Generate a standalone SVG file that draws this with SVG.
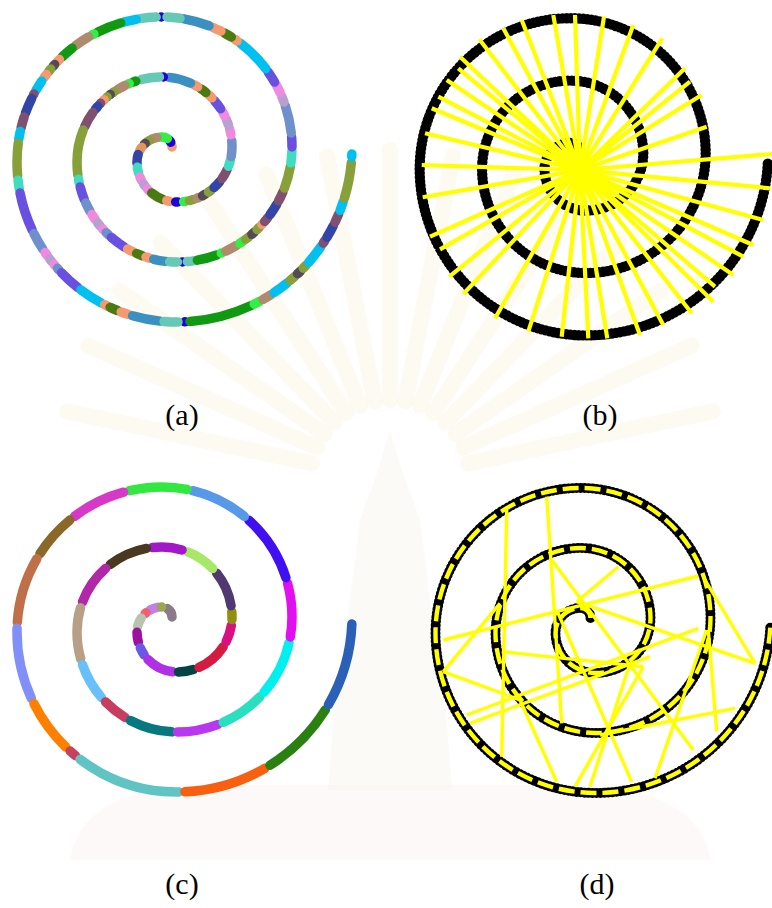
<svg xmlns="http://www.w3.org/2000/svg" width="772" height="908" viewBox="0 0 772 908">
<style>
.seg{fill:none;stroke-width:9.5;stroke-linecap:round}
.blk{fill:none;stroke:#000;stroke-width:10;stroke-linecap:round;stroke-dasharray:0 4}
.yl{stroke:#ffff00;stroke-width:4.2;stroke-linecap:butt;fill:none}
.yd{fill:none;stroke:#ffff00;stroke-width:4.4;stroke-dasharray:16 6}
.lbl{font-family:"Liberation Serif","Times New Roman",serif;font-size:30px;fill:#000;text-anchor:middle}
.ray{stroke:#f7efc8;stroke-width:16;stroke-linecap:round;opacity:0.25}
</style>
<defs>
<path id="sp" d="M172,147 A10,10 0 0 0 162,137 A25,25 0 0 0 137,162 A40,40 0 0 0 177,202 A55,55 0 0 0 232,147 A70,70 0 0 0 162,77 A85,85 0 0 0 77,162 A100,100 0 0 0 177,262 A115,115 0 0 0 292,147 A130,130 0 0 0 162,17 A145,145 0 0 0 17,162 A160,160 0 0 0 177,322 A175,175 0 0 0 351.86,154"/>
</defs>
<rect width="772" height="908" fill="#ffffff"/>
<g id="watermark">
<g transform="translate(390,480)">
<line class="ray" x1="0" y1="-80" x2="0" y2="-330" transform="rotate(-78)"/>
<line class="ray" x1="0" y1="-80" x2="0" y2="-330" transform="rotate(-66)"/>
<line class="ray" x1="0" y1="-80" x2="0" y2="-330" transform="rotate(-55)"/>
<line class="ray" x1="0" y1="-80" x2="0" y2="-330" transform="rotate(-44)"/>
<line class="ray" x1="0" y1="-80" x2="0" y2="-330" transform="rotate(-33)"/>
<line class="ray" x1="0" y1="-80" x2="0" y2="-330" transform="rotate(-22)"/>
<line class="ray" x1="0" y1="-80" x2="0" y2="-330" transform="rotate(-11)"/>
<line class="ray" x1="0" y1="-80" x2="0" y2="-330"/>
<line class="ray" x1="0" y1="-80" x2="0" y2="-330" transform="rotate(11)"/>
<line class="ray" x1="0" y1="-80" x2="0" y2="-330" transform="rotate(22)"/>
<line class="ray" x1="0" y1="-80" x2="0" y2="-330" transform="rotate(33)"/>
<line class="ray" x1="0" y1="-80" x2="0" y2="-330" transform="rotate(44)"/>
<line class="ray" x1="0" y1="-80" x2="0" y2="-330" transform="rotate(55)"/>
<line class="ray" x1="0" y1="-80" x2="0" y2="-330" transform="rotate(66)"/>
<line class="ray" x1="0" y1="-80" x2="0" y2="-330" transform="rotate(78)"/>
</g>
<path d="M390,430 L402,470 L420,520 L430,600 L445,700 L452,790 L328,790 L335,700 L350,600 L360,520 L378,470 Z" fill="#f3efe0" opacity="0.3"/>
<path d="M70,860 Q80,790 200,785 L580,785 Q700,790 710,860 Z" fill="#fbecec" opacity="0.3"/>
</g>

<g id="panel-a" class="seg">
<use href="#sp" stroke="#f59a6e" stroke-dasharray="1 4000" stroke-dashoffset="0"/>
<use href="#sp" stroke="#2200dd" stroke-dasharray="2 4000" stroke-dashoffset="-5"/>
<use href="#sp" stroke="#33ee44" stroke-dasharray="8 4000" stroke-dashoffset="-10"/>
<use href="#sp" stroke="#b08a6e" stroke-dasharray="5 4000" stroke-dashoffset="-21"/>
<use href="#sp" stroke="#88a03a" stroke-dasharray="2 4000" stroke-dashoffset="-29"/>
<use href="#sp" stroke="#554a55" stroke-dasharray="1 4000" stroke-dashoffset="-34"/>
<use href="#sp" stroke="#e0965e" stroke-dasharray="4 4000" stroke-dashoffset="-39"/>
<use href="#sp" stroke="#3346a8" stroke-dasharray="9 4000" stroke-dashoffset="-47"/>
<use href="#sp" stroke="#40dcc0" stroke-dasharray="6 4000" stroke-dashoffset="-60"/>
<use href="#sp" stroke="#f08ae0" stroke-dasharray="4 4000" stroke-dashoffset="-70"/>
<use href="#sp" stroke="#b8a0d0" stroke-dasharray="2 4000" stroke-dashoffset="-78"/>
<use href="#sp" stroke="#f08ae0" stroke-dasharray="2 4000" stroke-dashoffset="-84"/>
<use href="#sp" stroke="#4a7a10" stroke-dasharray="13 4000" stroke-dashoffset="-90"/>
<use href="#sp" stroke="#f59a6e" stroke-dasharray="3 4000" stroke-dashoffset="-107"/>
<use href="#sp" stroke="#2200dd" stroke-dasharray="2 4000" stroke-dashoffset="-116"/>
<use href="#sp" stroke="#33ee44" stroke-dasharray="2 4000" stroke-dashoffset="-124"/>
<use href="#sp" stroke="#88a03a" stroke-dasharray="4 4000" stroke-dashoffset="-130"/>
<use href="#sp" stroke="#b08a6e" stroke-dasharray="2 4000" stroke-dashoffset="-138"/>
<use href="#sp" stroke="#554a55" stroke-dasharray="3 4000" stroke-dashoffset="-144"/>
<use href="#sp" stroke="#88a03a" stroke-dasharray="3 4000" stroke-dashoffset="-151"/>
<use href="#sp" stroke="#3346a8" stroke-dasharray="8 4000" stroke-dashoffset="-158"/>
<use href="#sp" stroke="#7f5070" stroke-dasharray="10 4000" stroke-dashoffset="-170"/>
<use href="#sp" stroke="#40dcc0" stroke-dasharray="6 4000" stroke-dashoffset="-184"/>
<use href="#sp" stroke="#7090cc" stroke-dasharray="16 4000" stroke-dashoffset="-194"/>
<use href="#sp" stroke="#f08ae0" stroke-dasharray="6 4000" stroke-dashoffset="-216"/>
<use href="#sp" stroke="#b8a0d0" stroke-dasharray="6 4000" stroke-dashoffset="-226"/>
<use href="#sp" stroke="#f08ae0" stroke-dasharray="4 4000" stroke-dashoffset="-236"/>
<use href="#sp" stroke="#6a50e0" stroke-dasharray="10 4000" stroke-dashoffset="-244"/>
<use href="#sp" stroke="#f59a6e" stroke-dasharray="4 4000" stroke-dashoffset="-258"/>
<use href="#sp" stroke="#4a7a10" stroke-dasharray="6 4000" stroke-dashoffset="-266"/>
<use href="#sp" stroke="#f59a6e" stroke-dasharray="4 4000" stroke-dashoffset="-276"/>
<use href="#sp" stroke="#3a90c0" stroke-dasharray="22 4000" stroke-dashoffset="-284"/>
<use href="#sp" stroke="#2200dd" stroke-dasharray="0 4000" stroke-dashoffset="-312"/>
<use href="#sp" stroke="#66c9b5" stroke-dasharray="18 4000" stroke-dashoffset="-316"/>
<use href="#sp" stroke="#119911" stroke-dasharray="3 4000" stroke-dashoffset="-340"/>
<use href="#sp" stroke="#33ee44" stroke-dasharray="1 4000" stroke-dashoffset="-347"/>
<use href="#sp" stroke="#b08a6e" stroke-dasharray="8 4000" stroke-dashoffset="-352"/>
<use href="#sp" stroke="#88a03a" stroke-dasharray="1 4000" stroke-dashoffset="-364"/>
<use href="#sp" stroke="#554a55" stroke-dasharray="0 4000" stroke-dashoffset="-369"/>
<use href="#sp" stroke="#88a03a" stroke-dasharray="0 4000" stroke-dashoffset="-373"/>
<use href="#sp" stroke="#f59a6e" stroke-dasharray="1 4000" stroke-dashoffset="-377"/>
<use href="#sp" stroke="#7f5070" stroke-dasharray="0 4000" stroke-dashoffset="-382"/>
<use href="#sp" stroke="#3346a8" stroke-dasharray="4 4000" stroke-dashoffset="-386"/>
<use href="#sp" stroke="#7f5070" stroke-dasharray="16 4000" stroke-dashoffset="-394"/>
<use href="#sp" stroke="#88a03a" stroke-dasharray="46 4000" stroke-dashoffset="-414"/>
<use href="#sp" stroke="#40dcc0" stroke-dasharray="4 4000" stroke-dashoffset="-464"/>
<use href="#sp" stroke="#6a50e0" stroke-dasharray="13 4000" stroke-dashoffset="-472"/>
<use href="#sp" stroke="#7090cc" stroke-dasharray="9 4000" stroke-dashoffset="-489"/>
<use href="#sp" stroke="#f08ae0" stroke-dasharray="6 4000" stroke-dashoffset="-502"/>
<use href="#sp" stroke="#b8a0d0" stroke-dasharray="4 4000" stroke-dashoffset="-512"/>
<use href="#sp" stroke="#f08ae0" stroke-dasharray="1 4000" stroke-dashoffset="-520"/>
<use href="#sp" stroke="#7090cc" stroke-dasharray="3 4000" stroke-dashoffset="-525"/>
<use href="#sp" stroke="#6a50e0" stroke-dasharray="16 4000" stroke-dashoffset="-532"/>
<use href="#sp" stroke="#f59a6e" stroke-dasharray="6 4000" stroke-dashoffset="-552"/>
<use href="#sp" stroke="#4a7a10" stroke-dasharray="6 4000" stroke-dashoffset="-562"/>
<use href="#sp" stroke="#f59a6e" stroke-dasharray="4 4000" stroke-dashoffset="-572"/>
<use href="#sp" stroke="#3a90c0" stroke-dasharray="12 4000" stroke-dashoffset="-580"/>
<use href="#sp" stroke="#2200dd" stroke-dasharray="0 4000" stroke-dashoffset="-609"/>
<use href="#sp" stroke="#66c9b5" stroke-dasharray="8 4000" stroke-dashoffset="-596"/>
<use href="#sp" stroke="#66c9b5" stroke-dasharray="6 4000" stroke-dashoffset="-614"/>
<use href="#sp" stroke="#119911" stroke-dasharray="20 4000" stroke-dashoffset="-624"/>
<use href="#sp" stroke="#33ee44" stroke-dasharray="0 4000" stroke-dashoffset="-649"/>
<use href="#sp" stroke="#b08a6e" stroke-dasharray="12 4000" stroke-dashoffset="-654"/>
<use href="#sp" stroke="#33ee44" stroke-dasharray="3 4000" stroke-dashoffset="-670"/>
<use href="#sp" stroke="#88a03a" stroke-dasharray="4 4000" stroke-dashoffset="-677"/>
<use href="#sp" stroke="#554a55" stroke-dasharray="3 4000" stroke-dashoffset="-685"/>
<use href="#sp" stroke="#88a03a" stroke-dasharray="3 4000" stroke-dashoffset="-692"/>
<use href="#sp" stroke="#f59a6e" stroke-dasharray="0 4000" stroke-dashoffset="-699"/>
<use href="#sp" stroke="#7f5070" stroke-dasharray="5 4000" stroke-dashoffset="-703"/>
<use href="#sp" stroke="#3346a8" stroke-dasharray="12 4000" stroke-dashoffset="-712"/>
<use href="#sp" stroke="#7f5070" stroke-dasharray="10 4000" stroke-dashoffset="-728"/>
<use href="#sp" stroke="#88a03a" stroke-dasharray="22 4000" stroke-dashoffset="-742"/>
<use href="#sp" stroke="#40dcc0" stroke-dasharray="12 4000" stroke-dashoffset="-768"/>
<use href="#sp" stroke="#6a50e0" stroke-dasharray="10 4000" stroke-dashoffset="-784"/>
<use href="#sp" stroke="#7090cc" stroke-dasharray="28 4000" stroke-dashoffset="-798"/>
<use href="#sp" stroke="#b8a0d0" stroke-dasharray="6 4000" stroke-dashoffset="-830"/>
<use href="#sp" stroke="#f08ae0" stroke-dasharray="8 4000" stroke-dashoffset="-840"/>
<use href="#sp" stroke="#6a50e0" stroke-dasharray="12 4000" stroke-dashoffset="-852"/>
<use href="#sp" stroke="#00c0f0" stroke-dasharray="36 4000" stroke-dashoffset="-868"/>
<use href="#sp" stroke="#f59a6e" stroke-dasharray="3 4000" stroke-dashoffset="-908"/>
<use href="#sp" stroke="#4a7a10" stroke-dasharray="8 4000" stroke-dashoffset="-915"/>
<use href="#sp" stroke="#f59a6e" stroke-dasharray="9 4000" stroke-dashoffset="-927"/>
<use href="#sp" stroke="#3a90c0" stroke-dasharray="26 4000" stroke-dashoffset="-940"/>
<use href="#sp" stroke="#2200dd" stroke-dasharray="0 4000" stroke-dashoffset="-989"/>
<use href="#sp" stroke="#66c9b5" stroke-dasharray="13 4000" stroke-dashoffset="-970"/>
<use href="#sp" stroke="#66c9b5" stroke-dasharray="16 4000" stroke-dashoffset="-994"/>
<use href="#sp" stroke="#00c0f0" stroke-dasharray="12 4000" stroke-dashoffset="-1014"/>
<use href="#sp" stroke="#119911" stroke-dasharray="25 4000" stroke-dashoffset="-1030"/>
<use href="#sp" stroke="#33ee44" stroke-dasharray="2 4000" stroke-dashoffset="-1059"/>
<use href="#sp" stroke="#b08a6e" stroke-dasharray="16 4000" stroke-dashoffset="-1065"/>
<use href="#sp" stroke="#119911" stroke-dasharray="13 4000" stroke-dashoffset="-1085"/>
<use href="#sp" stroke="#f59a6e" stroke-dasharray="3 4000" stroke-dashoffset="-1102"/>
<use href="#sp" stroke="#554a55" stroke-dasharray="2 4000" stroke-dashoffset="-1109"/>
<use href="#sp" stroke="#88a03a" stroke-dasharray="3 4000" stroke-dashoffset="-1115"/>
<use href="#sp" stroke="#f59a6e" stroke-dasharray="4 4000" stroke-dashoffset="-1122"/>
<use href="#sp" stroke="#00c0f0" stroke-dasharray="11 4000" stroke-dashoffset="-1130"/>
<use href="#sp" stroke="#7f5070" stroke-dasharray="1 4000" stroke-dashoffset="-1145"/>
<use href="#sp" stroke="#3346a8" stroke-dasharray="16 4000" stroke-dashoffset="-1150"/>
<use href="#sp" stroke="#7f5070" stroke-dasharray="11 4000" stroke-dashoffset="-1170"/>
<use href="#sp" stroke="#00c0f0" stroke-dasharray="8 4000" stroke-dashoffset="-1185"/>
<use href="#sp" stroke="#88a03a" stroke-dasharray="33 4000" stroke-dashoffset="-1197"/>
<use href="#sp" stroke="#40dcc0" stroke-dasharray="9 4000" stroke-dashoffset="-1234"/>
<use href="#sp" stroke="#6a50e0" stroke-dasharray="39 4000" stroke-dashoffset="-1247"/>
<use href="#sp" stroke="#7090cc" stroke-dasharray="18 4000" stroke-dashoffset="-1290"/>
<use href="#sp" stroke="#f08ae0" stroke-dasharray="4 4000" stroke-dashoffset="-1312"/>
<use href="#sp" stroke="#b8a0d0" stroke-dasharray="3 4000" stroke-dashoffset="-1320"/>
<use href="#sp" stroke="#f08ae0" stroke-dasharray="1 4000" stroke-dashoffset="-1327"/>
<use href="#sp" stroke="#7090cc" stroke-dasharray="2 4000" stroke-dashoffset="-1332"/>
<use href="#sp" stroke="#6a50e0" stroke-dasharray="22 4000" stroke-dashoffset="-1338"/>
<use href="#sp" stroke="#00c0f0" stroke-dasharray="24 4000" stroke-dashoffset="-1364"/>
<use href="#sp" stroke="#f59a6e" stroke-dasharray="2 4000" stroke-dashoffset="-1392"/>
<use href="#sp" stroke="#4a7a10" stroke-dasharray="8 4000" stroke-dashoffset="-1398"/>
<use href="#sp" stroke="#f59a6e" stroke-dasharray="8 4000" stroke-dashoffset="-1410"/>
<use href="#sp" stroke="#3a90c0" stroke-dasharray="28 4000" stroke-dashoffset="-1422"/>
<use href="#sp" stroke="#2200dd" stroke-dasharray="0 4000" stroke-dashoffset="-1475"/>
<use href="#sp" stroke="#66c9b5" stroke-dasharray="14 4000" stroke-dashoffset="-1454"/>
<use href="#sp" stroke="#119911" stroke-dasharray="63 4000" stroke-dashoffset="-1480"/>
<use href="#sp" stroke="#33ee44" stroke-dasharray="6 4000" stroke-dashoffset="-1547"/>
<use href="#sp" stroke="#b08a6e" stroke-dasharray="9 4000" stroke-dashoffset="-1557"/>
<use href="#sp" stroke="#00c0f0" stroke-dasharray="16 4000" stroke-dashoffset="-1570"/>
<use href="#sp" stroke="#88a03a" stroke-dasharray="6 4000" stroke-dashoffset="-1590"/>
<use href="#sp" stroke="#554a55" stroke-dasharray="4 4000" stroke-dashoffset="-1600"/>
<use href="#sp" stroke="#88a03a" stroke-dasharray="4 4000" stroke-dashoffset="-1608"/>
<use href="#sp" stroke="#00c0f0" stroke-dasharray="20 4000" stroke-dashoffset="-1616"/>
<use href="#sp" stroke="#7f5070" stroke-dasharray="3 4000" stroke-dashoffset="-1640"/>
<use href="#sp" stroke="#3346a8" stroke-dasharray="13 4000" stroke-dashoffset="-1647"/>
<use href="#sp" stroke="#7f5070" stroke-dasharray="9 4000" stroke-dashoffset="-1664"/>
<use href="#sp" stroke="#00c0f0" stroke-dasharray="9 4000" stroke-dashoffset="-1677"/>
<use href="#sp" stroke="#88a03a" stroke-dasharray="36 4000" stroke-dashoffset="-1690"/>
<use href="#sp" stroke="#00c0f0" stroke-dasharray="10 4000" stroke-dashoffset="-1732"/>
</g>

<g id="panel-b">
<use href="#sp" class="blk" transform="translate(402,0.5) scale(1.04)"/>
<g id="b-connectors" class="yl">
<line x1="553.3" y1="15" x2="582" y2="182"/>
<line x1="575" y1="15" x2="580.4" y2="182"/>
<line x1="604" y1="16.7" x2="578.1" y2="181.9"/>
<line x1="633.3" y1="25" x2="575.9" y2="181.3"/>
<line x1="662.3" y1="38.3" x2="573.6" y2="180.2"/>
<line x1="521.7" y1="20" x2="584.3" y2="181.2"/>
<line x1="503.3" y1="28.3" x2="585.7" y2="180.5"/>
<line x1="479.3" y1="39.3" x2="587.3" y2="179.5"/>
<line x1="460" y1="56.7" x2="588.7" y2="178.2"/>
<line x1="458.3" y1="68.3" x2="589.2" y2="177.7"/>
<line x1="446.7" y1="80" x2="590" y2="176.7"/>
<line x1="438.3" y1="96.7" x2="590.7" y2="175.5"/>
<line x1="431.7" y1="108.3" x2="591.1" y2="174.6"/>
<line x1="425" y1="133.3" x2="591.7" y2="172.8"/>
<line x1="421.7" y1="165" x2="592" y2="170.4"/>
<line x1="422.7" y1="197.3" x2="591.8" y2="168"/>
<line x1="430" y1="236.7" x2="591" y2="165.1"/>
<line x1="440" y1="249.3" x2="590.4" y2="164.1"/>
<line x1="449.3" y1="276.7" x2="589.3" y2="162.4"/>
<line x1="463.3" y1="294" x2="588.2" y2="161.3"/>
<line x1="495" y1="318.3" x2="586" y2="159.6"/>
<line x1="528.3" y1="331.7" x2="583.7" y2="158.6"/>
<line x1="561.7" y1="336.7" x2="581.3" y2="158.1"/>
<line x1="588.3" y1="338.3" x2="579.4" y2="158"/>
<line x1="607.3" y1="338.3" x2="578.1" y2="158.2"/>
<line x1="640" y1="335" x2="575.9" y2="158.7"/>
<line x1="663.3" y1="325" x2="574.3" y2="159.4"/>
<line x1="691.7" y1="313.3" x2="572.6" y2="160.5"/>
<line x1="713.3" y1="301.7" x2="571.5" y2="161.6"/>
<line x1="715" y1="286.7" x2="570.9" y2="162.2"/>
<line x1="733.3" y1="275" x2="570.1" y2="163.2"/>
<line x1="743.3" y1="256.7" x2="569.4" y2="164.4"/>
<line x1="753.3" y1="245" x2="569" y2="165.2"/>
<line x1="763.3" y1="220" x2="568.4" y2="166.8"/>
<line x1="770" y1="188.3" x2="568.1" y2="168.8"/>
<line x1="772" y1="154" x2="568" y2="171"/>
<line x1="706.7" y1="126.7" x2="568.6" y2="173.9"/>
<line x1="701.7" y1="95" x2="569.8" y2="176.3"/>
<line x1="690" y1="81.7" x2="570.6" y2="177.5"/>
<line x1="685" y1="68.3" x2="571.4" y2="178.4"/>
</g>
</g>

<g id="panel-c" class="seg" transform="translate(0,470)">
<use href="#sp" stroke="#8a7a8a" stroke-dasharray="10 4000" stroke-dashoffset="0"/>
<use href="#sp" stroke="#c080e8" stroke-dasharray="8 4000" stroke-dashoffset="-20"/>
<use href="#sp" stroke="#9aa84c" stroke-dasharray="0 4000" stroke-dashoffset="-16"/>
<use href="#sp" stroke="#f06070" stroke-dasharray="1 4000" stroke-dashoffset="-33"/>
<use href="#sp" stroke="#b8c4b0" stroke-dasharray="9 4000" stroke-dashoffset="-40"/>
<use href="#sp" stroke="#a010a0" stroke-dasharray="10 4000" stroke-dashoffset="-55"/>
<use href="#sp" stroke="#6a58e8" stroke-dasharray="8 4000" stroke-dashoffset="-71"/>
<use href="#sp" stroke="#b030e8" stroke-dasharray="28 4000" stroke-dashoffset="-85"/>
<use href="#sp" stroke="#004444" stroke-dasharray="15 4000" stroke-dashoffset="-119"/>
<use href="#sp" stroke="#d41c40" stroke-dasharray="32 4000" stroke-dashoffset="-140"/>
<use href="#sp" stroke="#d81080" stroke-dasharray="17 4000" stroke-dashoffset="-178"/>
<use href="#sp" stroke="#909010" stroke-dasharray="8 4000" stroke-dashoffset="-201"/>
<use href="#sp" stroke="#503870" stroke-dasharray="36 4000" stroke-dashoffset="-215"/>
<use href="#sp" stroke="#a8e868" stroke-dasharray="30 4000" stroke-dashoffset="-257"/>
<use href="#sp" stroke="#a018c8" stroke-dasharray="30 4000" stroke-dashoffset="-293"/>
<use href="#sp" stroke="#4a3820" stroke-dasharray="40 4000" stroke-dashoffset="-329"/>
<use href="#sp" stroke="#b028a8" stroke-dasharray="41 4000" stroke-dashoffset="-375"/>
<use href="#sp" stroke="#b8a088" stroke-dasharray="52 4000" stroke-dashoffset="-422"/>
<use href="#sp" stroke="#68c0f8" stroke-dasharray="38 4000" stroke-dashoffset="-480"/>
<use href="#sp" stroke="#c83c60" stroke-dasharray="25 4000" stroke-dashoffset="-524"/>
<use href="#sp" stroke="#087880" stroke-dasharray="43 4000" stroke-dashoffset="-555"/>
<use href="#sp" stroke="#b838f0" stroke-dasharray="41 4000" stroke-dashoffset="-604"/>
<use href="#sp" stroke="#28e0c0" stroke-dasharray="45 4000" stroke-dashoffset="-651"/>
<use href="#sp" stroke="#00f0f0" stroke-dasharray="56 4000" stroke-dashoffset="-702"/>
<use href="#sp" stroke="#e010f0" stroke-dasharray="54 4000" stroke-dashoffset="-764"/>
<use href="#sp" stroke="#4010f0" stroke-dasharray="69 4000" stroke-dashoffset="-824"/>
<use href="#sp" stroke="#5898e8" stroke-dasharray="58 4000" stroke-dashoffset="-899"/>
<use href="#sp" stroke="#30e840" stroke-dasharray="58 4000" stroke-dashoffset="-963"/>
<use href="#sp" stroke="#d838c8" stroke-dasharray="55 4000" stroke-dashoffset="-1027"/>
<use href="#sp" stroke="#8a6828" stroke-dasharray="45 4000" stroke-dashoffset="-1088"/>
<use href="#sp" stroke="#c07048" stroke-dasharray="67 4000" stroke-dashoffset="-1139"/>
<use href="#sp" stroke="#8090f8" stroke-dasharray="72 4000" stroke-dashoffset="-1212"/>
<use href="#sp" stroke="#ff8000" stroke-dasharray="54 4000" stroke-dashoffset="-1290"/>
<use href="#sp" stroke="#c84060" stroke-dasharray="7 4000" stroke-dashoffset="-1350"/>
<use href="#sp" stroke="#60c4c4" stroke-dasharray="106 4000" stroke-dashoffset="-1363"/>
<use href="#sp" stroke="#f86010" stroke-dasharray="84 4000" stroke-dashoffset="-1475"/>
<use href="#sp" stroke="#2a8010" stroke-dasharray="79 4000" stroke-dashoffset="-1565"/>
<use href="#sp" stroke="#2a60b8" stroke-dasharray="100 4000" stroke-dashoffset="-1650"/>
</g>

<g id="panel-d">
<use href="#sp" class="blk" transform="translate(418.5,471)"/>
<use href="#sp" class="yd" transform="translate(418.5,471)"/>
<g id="d-connectors" class="yl" style="stroke-width:3.4">
<line x1="506.7" y1="510" x2="501.7" y2="756.7"/>
<line x1="546.7" y1="496.7" x2="561.7" y2="723.3"/>
<line x1="443.3" y1="640" x2="698.3" y2="576"/>
<line x1="576.7" y1="601.7" x2="618.3" y2="566.7"/>
<line x1="576.7" y1="601.7" x2="755" y2="663.3"/>
<line x1="551.7" y1="560" x2="693.3" y2="750"/>
<line x1="705" y1="580" x2="755" y2="663.3"/>
<line x1="443.3" y1="671.7" x2="520" y2="700"/>
<line x1="466.7" y1="715" x2="698.3" y2="628.3"/>
<line x1="470" y1="723.3" x2="650" y2="656.7"/>
<line x1="520" y1="700" x2="556.7" y2="781.7"/>
<line x1="501.7" y1="651.7" x2="643.3" y2="666.7"/>
<line x1="575" y1="786.7" x2="643.3" y2="666.7"/>
<line x1="590" y1="786.7" x2="630" y2="663.3"/>
<line x1="655" y1="778.3" x2="706.7" y2="630"/>
<line x1="716.7" y1="731.7" x2="708.3" y2="630"/>
<line x1="600" y1="735" x2="735" y2="708.3"/>
<line x1="631.7" y1="781.7" x2="556.7" y2="610"/>
<line x1="443.3" y1="671.7" x2="500" y2="603.3"/>
</g>
</g>

<g id="labels">
<text class="lbl" x="182" y="425">(a)</text>
<text class="lbl" x="600" y="425">(b)</text>
<text class="lbl" x="182" y="894">(c)</text>
<text class="lbl" x="597" y="894">(d)</text>
</g>
</svg>
